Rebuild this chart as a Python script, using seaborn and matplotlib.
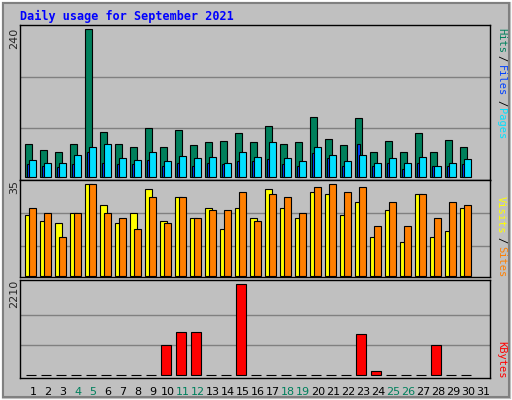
import numpy as np
import matplotlib
matplotlib.use("Agg")
import matplotlib.pyplot as plt
import seaborn as sns
from matplotlib.patches import Rectangle

days = list(range(1, 32))
weekend_days = [4, 5, 11, 12, 18, 19, 25, 26]

hits = [54, 43, 40, 53, 240, 72, 53, 48, 80, 48, 76, 51, 56, 58, 71, 56, 82, 53, 56, 97,
        61, 51, 95, 41, 58, 40, 71, 40, 59, 49, 0]
files = [20, 18, 15, 20, 41, 22, 20, 20, 27, 17, 23, 17, 22, 20, 25, 25, 28, 20, 17, 38,
         30, 18, 53, 17, 22, 12, 22, 17, 18, 20, 0]
pages = [27, 22, 22, 35, 49, 54, 30, 27, 41, 25, 33, 30, 32, 22, 40, 32, 56, 30, 25, 48,
         35, 25, 36, 23, 30, 22, 32, 17, 22, 28, 0]
visits = [23, 21, 20, 24, 35, 27, 20, 24, 33, 21, 30, 22, 26, 18, 26, 22, 33, 26, 22, 32,
          31, 23, 28, 15, 25, 13, 31, 15, 17, 26, 0]
sites = [26, 24, 15, 24, 35, 24, 22, 18, 30, 20, 30, 22, 25, 25, 32, 21, 31, 30, 24, 34,
         35, 32, 34, 19, 28, 19, 31, 22, 28, 27, 0]
kbytes = [0, 0, 0, 0, 0, 0, 0, 0, 0, 723, 1048, 1048, 0, 0, 2210, 0, 0, 0, 0, 0,
          0, 0, 991, 89, 0, 0, 0, 723, 0, 0, 0]

BG = "#C0C0C0"
C_HITS, C_FILES, C_PAGES = "#00805C", "#0040FF", "#00E0FF"
C_VISITS, C_SITES, C_KB = "#FFFF00", "#FF8000", "#FF0000"
MONO = "DejaVu Sans Mono"

sns.set_style("white")
plt.rcParams["font.family"] = [MONO]

W, H = 512, 400
fig = plt.figure(figsize=(W / 100, H / 100), dpi=100, facecolor=BG)

# bevel border
fig.patches.append(Rectangle((0, 0), 1, 1, transform=fig.transFigure, fill=False,
                             edgecolor="white", lw=2))
fig.patches.append(Rectangle((3 / W, 3 / H), 1 - 6 / W, 1 - 6 / H, transform=fig.transFigure,
                             fill=False, edgecolor="#808080", lw=1.5))


def panel(top, bottom):
    ax = fig.add_axes([20 / W, 1 - bottom / H, 470 / W, (bottom - top) / H])
    ax.set_facecolor(BG)
    ax.set_xlim(0.5, 0.5 + 470 / 15)
    ax.set_xticks([])
    ax.set_yticks([])
    for s in ax.spines.values():
        s.set_color("black")
        s.set_linewidth(1)
    return ax


x = np.array(days, dtype=float)
kw = dict(align="edge", edgecolor="black", linewidth=0.8, zorder=3)

# top panel: hits / files / pages
ax1 = panel(25, 180)
ax1.set_ylim(-5.4, 247)
for g in (80, 163):
    ax1.axhline(g, color="#808080", lw=1, zorder=1)
ax1.bar(x[:30] - 0.15, hits[:30], width=0.47, color=C_HITS, **kw)
ax1.bar(x[:30] - 0.02, files[:30], width=0.2, color=C_FILES, **kw)
ax1.bar(x[:30] + 0.12, pages[:30], width=0.47, color=C_PAGES, **kw)

# middle panel: visits / sites
ax2 = panel(180, 277)
ax2.set_ylim(-0.4, 36.5)
for g in (11.5, 23.8):
    ax2.axhline(g, color="#808080", lw=1, zorder=1)
ax2.bar(x[:30] - 0.15, visits[:30], width=0.47, color=C_VISITS, **kw)
ax2.bar(x[:30] + 0.12, sites[:30], width=0.47, color=C_SITES, **kw)

# bottom panel: kbytes
ax3 = panel(280, 378)
ax3.set_ylim(-73, 2315)
for g in (720, 1470):
    ax3.axhline(g, color="#808080", lw=1, zorder=1)
ax3.bar(x[:30] - 0.1, kbytes[:30], width=0.67, color=C_KB, **kw)

# day labels
for d in days:
    ax3.text(d + 0.37, -0.14, str(d), transform=ax3.get_xaxis_transform(), ha="center",
             va="center", fontsize=8, family="DejaVu Sans",
             color=C_HITS if d in weekend_days else "black")

# title
fig.text(20 / W, 1 - 16 / H, "Daily usage for September 2021", color="#0000FF",
         fontsize=8.5, fontweight="bold", va="center", ha="left")

# left max labels
def ylab(txt, ycenter):
    fig.text(14 / W, 1 - ycenter / H, txt, rotation=90, ha="center", va="center",
             fontsize=8, family="DejaVu Sans")

ylab("240", 38)
ylab("35", 187)
ylab("2210", 294)

# right legends
def rlab(txt, ycenter, color):
    fig.text(501 / W, 1 - ycenter / H, txt, rotation=270, ha="center", va="center",
             fontsize=7.5, color=color)

rlab("Hits", 40, C_HITS)
rlab("/", 58, "black")
rlab("Files", 81, C_FILES)
rlab("/", 103, "black")
rlab("Pages", 124, C_PAGES)
rlab("Visits", 215, C_VISITS)
rlab("/", 240, "black")
rlab("Sites", 262, C_SITES)
rlab("KBytes", 360, C_KB)

fig.savefig("out.png", dpi=100, facecolor=BG)
